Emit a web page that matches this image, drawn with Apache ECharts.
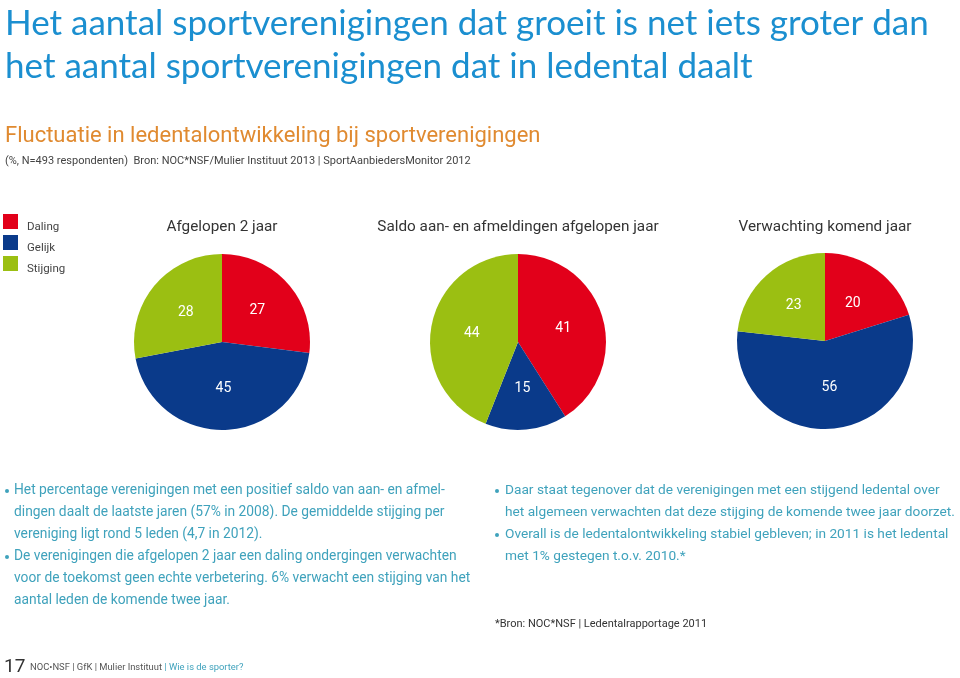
<!DOCTYPE html>
<html>
<head>
<meta charset="utf-8">
<script src="https://cdn.jsdelivr.net/npm/echarts@6/dist/echarts.min.js"></script>
<style>
html,body{margin:0;padding:0;background:#fff;}
#chart{width:960px;height:678px;}
</style>
</head>
<body>
<div id="chart"></div>
<script>
// ---- data ----
var categories = ['Daling', 'Gelijk', 'Stijging'];
var pieTitles = ['Afgelopen 2 jaar', 'Saldo aan- en afmeldingen afgelopen jaar', 'Verwachting komend jaar'];
var afgelopen2Jaar = [27, 45, 28];
var saldoAfgelopenJaar = [41, 15, 44];
var verwachtingKomendJaar = [20, 56, 23];
var pieValues = [afgelopen2Jaar, saldoAfgelopenJaar, verwachtingKomendJaar];

var titleLines = ['Het aantal sportverenigingen dat groeit is net iets groter dan',
                  'het aantal sportverenigingen dat in ledental daalt'];
var subtitle = 'Fluctuatie in ledentalontwikkeling bij sportverenigingen';
var sourceLine = '(%, N=493 respondenten)  Bron: NOC*NSF/Mulier Instituut 2013 | SportAanbiedersMonitor 2012';
var leftBullets = [
  ['Het percentage verenigingen met een positief saldo van aan- en afmel-',
   'dingen daalt de laatste jaren (57% in 2008). De gemiddelde stijging per',
   'vereniging ligt rond 5 leden (4,7 in 2012).'],
  ['De verenigingen die afgelopen 2 jaar een daling ondergingen verwachten',
   'voor de toekomst geen echte verbetering. 6% verwacht een stijging van het',
   'aantal leden de komende twee jaar.']
];
var rightBullets = [
  ['Daar staat tegenover dat de verenigingen met een stijgend ledental over',
   'het algemeen verwachten dat deze stijging de komende twee jaar doorzet.'],
  ['Overall is de ledentalontwikkeling stabiel gebleven; in 2011 is het ledental',
   'met 1% gestegen t.o.v. 2010.*']
];
var footnote = '*Bron: NOC*NSF | Ledentalrapportage 2011';

// ---- styles ----
var colors = ['#e2001a', '#0a3a8a', '#9bbf12'];
var FONT = 'Roboto, "Liberation Sans", sans-serif';
var TITLE_FONT = 'Lato, "Open Sans", sans-serif';
var teal = '#3fa2bc';
var pieCenters = [[222, 342], [518, 342], [825, 341]];

var chart = echarts.init(document.getElementById('chart'), null, {renderer: 'canvas'});

var series = pieValues.map(function (vals, i) {
  return {
    type: 'pie',
    name: pieTitles[i],
    center: pieCenters[i],
    radius: 88,
    startAngle: 90,
    clockwise: true,
    silent: true,
    animation: false,
    itemStyle: {borderWidth: 0},
    label: {
      show: true,
      position: 'inside',
      color: '#ffffff',
      fontFamily: FONT,
      fontSize: 14,
      formatter: '{c}'
    },
    labelLine: {show: false},
    data: categories.map(function (c, j) {
      return {name: c, value: vals[j]};
    })
  };
});

var graphics = [];
titleLines.forEach(function (t, i) {
  graphics.push({type: 'text', x: 5, y: 24 + i * 43,
    style: {text: t, font: '35px ' + TITLE_FONT, fill: '#1b8fd0', verticalAlign: 'middle'}});
});
graphics.push({type: 'text', x: 5, y: 136,
  style: {text: subtitle, font: '22px ' + FONT, fill: '#e08a30', verticalAlign: 'middle'}});
graphics.push({type: 'text', x: 5, y: 161,
  style: {text: sourceLine, font: '11px ' + FONT, fill: '#444', verticalAlign: 'middle'}});
pieTitles.forEach(function (t, i) {
  graphics.push({type: 'text', x: pieCenters[i][0], y: 227,
    style: {text: t, font: '15.3px ' + FONT, fill: '#333', align: 'center', verticalAlign: 'middle'}});
});

function addBullets(list, xBullet, xText, yStart, size) {
  var y = yStart;
  list.forEach(function (lines) {
    lines.forEach(function (line, k) {
      if (k === 0) {
        graphics.push({type: 'circle', shape: {cx: xBullet, cy: y, r: 2}, style: {fill: teal}});
      }
      graphics.push({type: 'text', x: xText, y: y,
        style: {text: line, font: size + 'px ' + FONT, fill: teal, verticalAlign: 'middle'}});
      y += 22;
    });
  });
}
addBullets(leftBullets, 7, 14, 491, 13.8);
addBullets(rightBullets, 497, 505, 491, 13.7);

graphics.push({type: 'text', x: 495, y: 624,
  style: {text: footnote, font: '11px ' + FONT, fill: '#333', verticalAlign: 'middle'}});
graphics.push({type: 'text', x: 4, y: 667,
  style: {text: '17', font: '19px ' + FONT, fill: '#333', verticalAlign: 'middle'}});
graphics.push({type: 'text', x: 30, y: 668,
  style: {
    text: '{a|NOC\u2022NSF | GfK | Mulier Instituut }{b|| Wie is de sporter?}',
    verticalAlign: 'middle',
    rich: {
      a: {font: '9.4px ' + FONT, fill: '#555'},
      b: {font: '9.4px ' + FONT, fill: teal}
    }
  }});

chart.setOption({
  backgroundColor: '#ffffff',
  animation: false,
  color: colors,
  legend: {
    show: true,
    orient: 'vertical',
    left: 3,
    top: 214,
    padding: 0,
    itemWidth: 15,
    itemHeight: 15,
    itemGap: 2,
    icon: 'rect',
    selectedMode: false,
    data: categories,
    formatter: '{t|{name}}',
    textStyle: {
      fontFamily: FONT, fontSize: 11.5, color: '#444',
      rich: {t: {fontFamily: FONT, fontSize: 11.5, color: '#444', padding: [11, 0, 0, 4]}}
    }
  },
  series: series,
  graphic: {elements: graphics}
});
</script>
</body>
</html>
